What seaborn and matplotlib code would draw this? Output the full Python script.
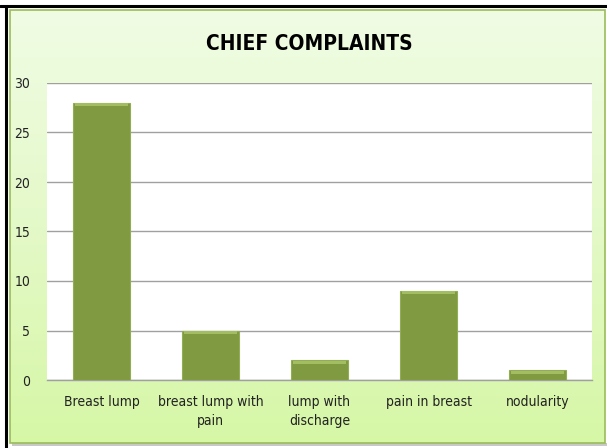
import numpy as np
import pandas as pd
import matplotlib
matplotlib.use("Agg")
import matplotlib.pyplot as plt
import seaborn as sns
from matplotlib.patches import Rectangle
from matplotlib.colors import LinearSegmentedColormap

categories = ["Breast lump", "breast lump with\npain", "lump with\ndischarge",
              "pain in breast", "nodularity"]
counts = [28, 5, 2, 9, 1]
yticks = [0, 5, 10, 15, 20, 25, 30]
title = "CHIEF COMPLAINTS"

df = pd.DataFrame({"complaint": categories, "count": counts})

sns.set_theme(style="white")
plt.rcParams["font.family"] = ["DejaVu Sans"]
plt.rcParams["font.stretch"] = "condensed"

W, H = 607, 448
fig = plt.figure(figsize=(W / 100, H / 100), dpi=100)
fig.patch.set_facecolor("white")

# chart panel with light green vertical gradient
bg = fig.add_axes([0, 0, 1, 1], zorder=0)
bg.set_xlim(0, W)
bg.set_ylim(H, 0)
bg.axis("off")
grad = LinearSegmentedColormap.from_list("panel", ["#f0fce4", "#e4f9c8", "#d6f7a6"])
bg.imshow(np.linspace(0, 1, 256).reshape(-1, 1), cmap=grad, aspect="auto",
          extent=(10, 605, 443, 10), zorder=1)
bg.add_patch(Rectangle((12, 443), 596, 3, facecolor="#c8c8c8", edgecolor="none", zorder=0))
bg.add_patch(Rectangle((10, 10), 595, 433, facecolor="none", edgecolor="#9bbb59",
                       linewidth=1.2, zorder=2))
bg.plot([0, W], [6, 6], color="black", lw=2.2, zorder=3)
bg.plot([5.5, 5.5], [6, H], color="black", lw=2.2, zorder=3)

left, right, top, bottom = 47, 592, 83, 380
ax = fig.add_axes([left / W, 1 - bottom / H, (right - left) / W, (bottom - top) / H], zorder=2)
ax.set_facecolor("white")

sns.barplot(data=df, x="complaint", y="count", ax=ax, color="#7f9a41",
            width=0.52, edgecolor="#93ad55", linewidth=0.8, saturation=1, zorder=3)
# bevelled highlight on top of each bar
for p in ax.patches:
    x0, w, h = p.get_x(), p.get_width(), p.get_height()
    ax.add_patch(Rectangle((x0 + w * 0.03, h - 0.36), w * 0.94, 0.3,
                           facecolor="#a3bd62", edgecolor="none", zorder=4))

ax.set_ylim(0, 30)
ax.set_yticks(yticks)
ax.set_yticklabels([str(t) for t in yticks], fontsize=10, color="#222222")
ax.set_xlim(-0.5, len(categories) - 0.5)
ax.tick_params(axis="x", labelsize=10, colors="#222222", length=0, pad=11)
ax.tick_params(axis="y", length=0, pad=12)
for lbl in ax.get_xticklabels():
    lbl.set_linespacing(1.45)
ax.set_xlabel("")
ax.set_ylabel("")
ax.yaxis.grid(True, color="#a0a0a0", linewidth=1.0)
ax.set_axisbelow(True)
for s in ["top", "right", "left"]:
    ax.spines[s].set_visible(False)
ax.spines["bottom"].set_color("#a0a0a0")
ax.spines["bottom"].set_linewidth(1.0)

fig.text(309 / W, 1 - 44 / H, title, ha="center", va="center",
         fontsize=15, fontweight="bold", color="black")

fig.savefig("out.png", dpi=100)
